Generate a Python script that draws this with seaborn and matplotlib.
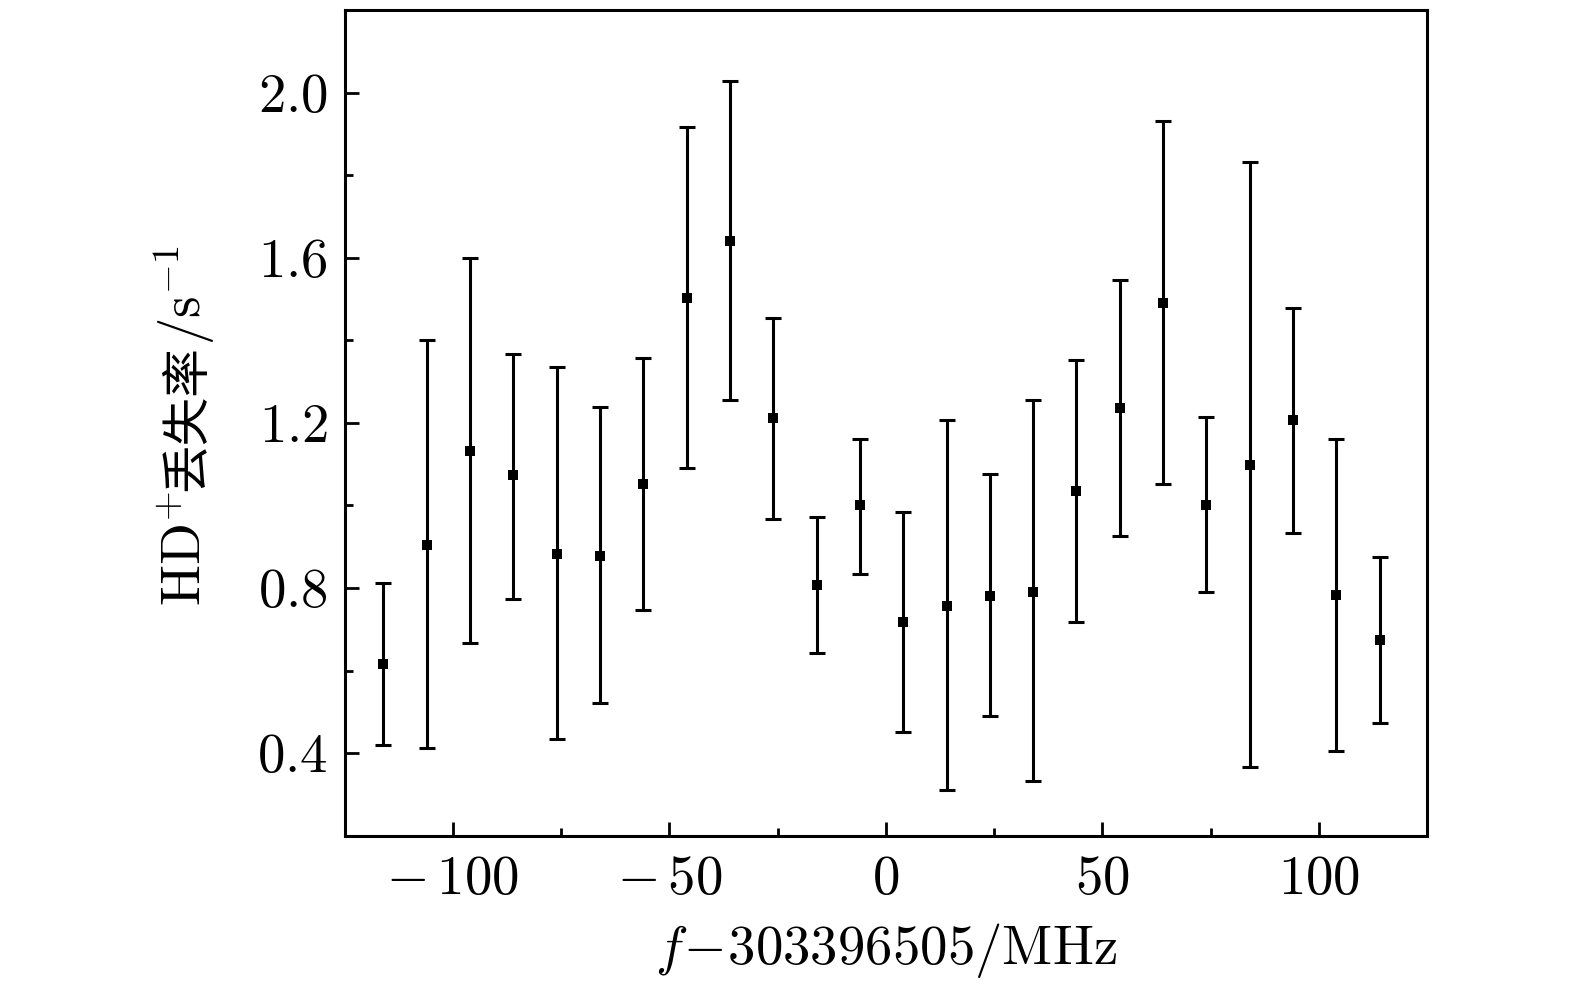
import numpy as np
import pandas as pd
import matplotlib
matplotlib.use("Agg")
import matplotlib.pyplot as plt
import seaborn as sns
from matplotlib.ticker import MultipleLocator

# ---- data ----
freq = [-116, -106, -96, -86, -76, -66, -56, -46, -36, -26, -16, -6,
        4, 14, 24, 34, 44, 54, 64, 74, 84, 94, 104, 114]
rate = [0.616, 0.905, 1.133, 1.073, 0.883, 0.878, 1.053, 1.502, 1.641, 1.211, 0.808, 1.000,
        0.718, 0.757, 0.781, 0.791, 1.034, 1.235, 1.490, 1.000, 1.099, 1.206, 0.784, 0.674]
rate_hi = [0.813, 1.400, 1.600, 1.366, 1.335, 1.238, 1.357, 1.917, 2.029, 1.454, 0.973, 1.160,
           0.985, 1.206, 1.075, 1.255, 1.352, 1.546, 1.930, 1.213, 1.833, 1.478, 1.162, 0.876]
rate_lo = [0.419, 0.412, 0.667, 0.774, 0.434, 0.521, 0.747, 1.090, 1.255, 0.968, 0.643, 0.835,
           0.451, 0.310, 0.490, 0.332, 0.718, 0.927, 1.051, 0.791, 0.366, 0.932, 0.405, 0.473]

x_ticks = [-100, -50, 0, 50, 100]
y_ticks = [0.4, 0.8, 1.2, 1.6, 2.0]

df = pd.DataFrame({"f": freq, "rate": rate, "hi": rate_hi, "lo": rate_lo})

sns.set_theme(style="ticks")
plt.rcParams["font.family"] = ["cmr10", "Noto Sans CJK SC", "DejaVu Sans"]
plt.rcParams["mathtext.fontset"] = "cm"
plt.rcParams["axes.formatter.use_mathtext"] = True
plt.rcParams["axes.unicode_minus"] = True
plt.rcParams["text.color"] = "black"
plt.rcParams["axes.labelcolor"] = "black"
plt.rcParams["xtick.labelcolor"] = "black"
plt.rcParams["ytick.labelcolor"] = "black"

W, H = 1575, 984
FS = 39.5
fig = plt.figure(figsize=(W / 100, H / 100), dpi=100)
L, R, T, B = 344.5, 1427.3, 10.0, 835.7
ax = fig.add_axes([L / W, 1 - B / H, (R - L) / W, (B - T) / H])

yerr = np.array([df["rate"] - df["lo"], df["hi"] - df["rate"]])
ax.errorbar(df["f"], df["rate"], yerr=yerr, fmt="none", ecolor="black",
            elinewidth=2.2, capsize=6, capthick=2.2, zorder=2)
sns.scatterplot(data=df, x="f", y="rate", marker="s", s=45, color="black",
                edgecolor="black", linewidth=0, ax=ax, zorder=3)

ax.set_xlim(-125, 125)
ax.set_ylim(0.2, 2.2)
ax.set_xticks(x_ticks)
ax.set_yticks(y_ticks)
ax.xaxis.set_minor_locator(MultipleLocator(25))
ax.yaxis.set_minor_locator(MultipleLocator(0.2))
ax.yaxis.set_major_formatter(matplotlib.ticker.FuncFormatter(lambda v, p: f"${v:.1f}$"))
ax.xaxis.set_major_formatter(matplotlib.ticker.FuncFormatter(
    lambda v, p: f"${int(round(v))}$".replace("-", "-\\,")))

for sp in ax.spines.values():
    sp.set_linewidth(2.2)
    sp.set_color("black")
ax.tick_params(which="both", direction="in", top=False, right=False, color="black",
               labelcolor="black")
ax.tick_params(which="major", length=10, width=2.0, labelsize=FS, pad=14)
ax.tick_params(which="minor", length=6, width=2.0)
ax.tick_params(axis="y", which="major", pad=12)

ax.set_xlabel(r"$f\!-\!303396505/\mathrm{MHz}$", fontsize=FS, labelpad=12, color="black")
ax.set_ylabel("")

# compose the y label from pieces (mathtext + CJK)
fig.canvas.draw()
r = fig.canvas.get_renderer()
x_base = 201
y_cur = H - 606
pieces = [("HD$^{+}$", ["cmr10"], FS), ("丢失率", ["Noto Sans CJK SC"], 35), ("/s$^{-1}$", ["cmr10"], FS)]
for s, fam, fs in pieces:
    t = fig.text(x_base / W, y_cur / H, s, rotation=90, rotation_mode="anchor",
                 ha="left", va="baseline", fontsize=fs, family=fam, color="black")
    bb = t.get_window_extent(r)
    y_cur += bb.height

fig.savefig("out.png", dpi=100, facecolor="white")
